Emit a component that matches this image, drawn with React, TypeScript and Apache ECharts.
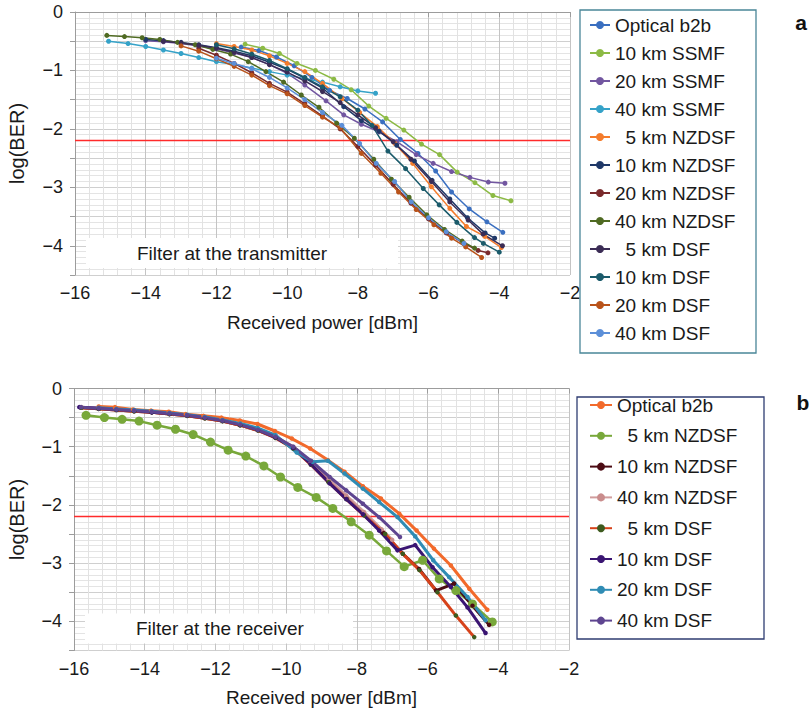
import React, { useEffect, useRef } from "react";
import * as echarts from "echarts";

const FONT = "'Liberation Sans', Arial, sans-serif";

// ---------- Panel a: filter at the transmitter ----------
const A_NAMES = [
  "Optical b2b", "10 km SSMF", "20 km SSMF", "40 km SSMF",
  "\u00a0\u00a05 km NZDSF", "10 km NZDSF", "20 km NZDSF", "40 km NZDSF",
  "\u00a0\u00a05 km DSF", "10 km DSF", "20 km DSF", "40 km DSF",
];
const A_COLORS = [
  "#3a6fc0", "#8cba45", "#7256a0", "#35a2c8",
  "#f47c2c", "#1f3868", "#7a2a2c", "#4f6a22",
  "#3b2c55", "#1b5b6b", "#b9531a", "#5c8fd8",
];
const A_B2B = [[-11.3,-0.6],[-10.8,-0.66],[-10.3,-0.77],[-9.8,-0.92],[-9.3,-1.12],[-8.8,-1.34],[-8.3,-1.48],[-7.8,-1.66],[-7.3,-1.88],[-6.8,-2.18],[-6.3,-2.42],[-5.8,-2.72],[-5.35,-3.08],[-4.85,-3.37],[-4.35,-3.59],[-3.9,-3.77]];
const A_SSMF10 = [[-11.19,-0.55],[-10.69,-0.62],[-10.22,-0.71],[-9.72,-0.88],[-9.2,-1.0],[-8.68,-1.15],[-8.19,-1.33],[-7.69,-1.61],[-7.2,-1.82],[-6.7,-2.02],[-6.2,-2.26],[-5.69,-2.44],[-5.19,-2.74],[-4.69,-2.92],[-4.18,-3.14],[-3.67,-3.23]];
const A_SSMF20 = [[-14.0,-0.49],[-13.5,-0.51],[-13.0,-0.54],[-12.5,-0.58],[-12.0,-0.63],[-11.5,-0.7],[-11.0,-0.78],[-10.5,-0.9],[-10.0,-1.05],[-9.5,-1.25],[-8.9,-1.52],[-8.4,-1.76],[-7.9,-1.92],[-7.4,-2.05],[-6.9,-2.22],[-6.35,-2.44],[-5.87,-2.59],[-5.35,-2.73],[-4.83,-2.83],[-4.31,-2.91],[-3.84,-2.93]];
const A_SSMF40 = [[-15.05,-0.5],[-14.5,-0.54],[-14.0,-0.59],[-13.5,-0.65],[-13.0,-0.71],[-12.5,-0.78],[-12.0,-0.85],[-11.5,-0.9],[-11.0,-0.96],[-10.5,-1.02],[-10.0,-1.08],[-9.5,-1.14],[-9.0,-1.2],[-8.5,-1.28],[-8.0,-1.35],[-7.5,-1.39]];
const A_NZ5 = [[-12.0,-0.54],[-11.5,-0.59],[-11.0,-0.65],[-10.5,-0.75],[-10.0,-0.88],[-9.5,-1.02],[-9.0,-1.22],[-8.45,-1.48],[-7.95,-1.72],[-7.45,-1.96],[-6.95,-2.25],[-6.45,-2.59],[-5.92,-2.99],[-5.4,-3.36],[-4.93,-3.67],[-4.41,-3.84],[-3.94,-4.03]];
const A_NZ10 = [[-14.0,-0.47],[-13.5,-0.49],[-13.0,-0.52],[-12.5,-0.56],[-12.0,-0.61],[-11.5,-0.67],[-11.0,-0.75],[-10.5,-0.86],[-10.0,-0.98],[-9.5,-1.13],[-9.0,-1.3],[-8.4,-1.62],[-7.9,-1.86],[-7.4,-2.04],[-6.9,-2.28],[-6.4,-2.55],[-5.9,-2.88],[-5.4,-3.2],[-4.9,-3.52],[-4.4,-3.78],[-4.13,-3.87]];
const A_NZ20 = [[-12.5,-0.62],[-12.0,-0.74],[-11.5,-0.88],[-11.0,-1.04],[-10.5,-1.22],[-10.0,-1.37],[-9.5,-1.57],[-9.0,-1.78],[-8.5,-2.0],[-8.0,-2.3],[-7.5,-2.62],[-7.0,-2.95],[-6.5,-3.27],[-6.0,-3.54],[-5.5,-3.78],[-5.0,-3.96],[-4.6,-4.08],[-4.32,-4.12]];
const A_NZ40 = [[-15.1,-0.4],[-14.6,-0.42],[-14.1,-0.44],[-13.6,-0.47],[-13.1,-0.52],[-12.6,-0.56],[-12.1,-0.64],[-11.6,-0.72],[-11.1,-0.85],[-10.6,-1.02],[-10.1,-1.2],[-9.6,-1.42],[-9.1,-1.63],[-8.6,-1.9],[-8.1,-2.16],[-7.55,-2.52],[-7.05,-2.86],[-6.55,-3.17],[-6.05,-3.47],[-5.55,-3.72],[-5.05,-3.92],[-4.7,-4.04]];
const A_D5 = [[-13.5,-0.5],[-13.0,-0.53],[-12.5,-0.57],[-12.0,-0.62],[-11.5,-0.69],[-11.0,-0.78],[-10.5,-0.9],[-10.0,-1.03],[-9.5,-1.18],[-9.0,-1.36],[-8.5,-1.55],[-8.0,-1.76],[-7.5,-1.98],[-7.0,-2.22],[-6.5,-2.52],[-5.92,-2.9],[-5.4,-3.25],[-4.88,-3.56],[-4.46,-3.8],[-3.91,-4.0]];
const A_D10 = [[-12.0,-0.56],[-11.5,-0.63],[-11.0,-0.72],[-10.5,-0.83],[-10.0,-0.97],[-9.5,-1.12],[-9.0,-1.28],[-8.5,-1.45],[-8.0,-1.68],[-7.6,-1.94],[-7.15,-2.38],[-6.65,-2.68],[-6.15,-3.02],[-5.7,-3.3],[-5.2,-3.6],[-4.7,-3.86],[-4.45,-3.96],[-4.0,-4.11]];
const A_D20 = [[-13.0,-0.58],[-12.5,-0.67],[-12.0,-0.8],[-11.5,-0.93],[-11.0,-1.08],[-10.5,-1.26],[-10.0,-1.4],[-9.5,-1.6],[-9.0,-1.8],[-8.5,-1.98],[-7.9,-2.42],[-7.35,-2.76],[-6.85,-3.08],[-6.35,-3.38],[-5.85,-3.64],[-5.35,-3.87],[-4.95,-4.02],[-4.5,-4.2]];
const A_D40 = [[-12.0,-0.79],[-11.5,-0.88],[-11.0,-0.97],[-10.5,-1.12],[-10.0,-1.3],[-9.5,-1.5],[-9.0,-1.72],[-8.45,-1.94],[-7.95,-2.25],[-7.48,-2.59],[-6.96,-2.9],[-6.49,-3.25],[-6.0,-3.52],[-5.5,-3.76],[-5.0,-3.96]];
const A_DATA = [A_B2B, A_SSMF10, A_SSMF20, A_SSMF40, A_NZ5, A_NZ10, A_NZ20, A_NZ40, A_D5, A_D10, A_D20, A_D40];

// ---------- Panel b: filter at the receiver ----------
const B_NAMES = [
  "Optical b2b", "\u00a0\u00a05 km NZDSF", "10 km NZDSF", "40 km NZDSF",
  "\u00a0\u00a05 km DSF", "10 km DSF", "20 km DSF", "40 km DSF",
];
const B_LINE_COLORS = ["#f26a2b", "#78a83a", "#4c0c14", "#c98c8c", "#d6421a", "#3a1572", "#2f8cb4", "#5e4590"];
const B_MARK_COLORS = ["#f26a2b", "#78a83a", "#4c0c14", "#c98c8c", "#3d5a1e", "#3a1572", "#2f8cb4", "#5e4590"];
const B_B2B = [[-15.3,-0.31],[-14.84,-0.32],[-14.33,-0.36],[-13.82,-0.38],[-13.32,-0.4],[-12.84,-0.44],[-12.34,-0.47],[-11.83,-0.5],[-11.31,-0.55],[-10.81,-0.61],[-10.32,-0.73],[-9.84,-0.86],[-9.32,-1.03],[-8.82,-1.23],[-8.35,-1.43],[-7.83,-1.68],[-7.32,-1.89],[-6.8,-2.15],[-6.31,-2.44],[-5.82,-2.75],[-5.34,-3.04],[-4.82,-3.44],[-4.31,-3.8]];
const B_NZ5 = [[-15.66,-0.46],[-15.14,-0.5],[-14.64,-0.53],[-14.16,-0.56],[-13.65,-0.63],[-13.13,-0.7],[-12.63,-0.79],[-12.14,-0.92],[-11.64,-1.06],[-11.14,-1.16],[-10.63,-1.33],[-10.16,-1.52],[-9.67,-1.7],[-9.15,-1.87],[-8.68,-2.06],[-8.16,-2.29],[-7.65,-2.52],[-7.16,-2.79],[-6.66,-3.06],[-6.14,-2.95],[-5.67,-3.27],[-5.2,-3.47],[-4.73,-3.7],[-4.17,-4.01]];
const B_NZ10 = [[-15.8,-0.33],[-15.3,-0.35],[-14.8,-0.37],[-14.3,-0.39],[-13.8,-0.41],[-13.3,-0.44],[-12.8,-0.47],[-12.3,-0.51],[-11.8,-0.56],[-11.3,-0.63],[-10.8,-0.72],[-10.3,-0.84],[-9.8,-1.02],[-9.3,-1.3],[-8.8,-1.6],[-8.3,-1.88],[-7.8,-2.16],[-7.25,-2.48],[-6.7,-2.84],[-6.24,-3.1],[-5.76,-3.47],[-5.25,-3.35],[-4.73,-3.73],[-4.26,-4.06]];
const B_NZ40 = [[-15.8,-0.32],[-15.3,-0.34],[-14.8,-0.36],[-14.3,-0.38],[-13.8,-0.4],[-13.3,-0.43],[-12.8,-0.46],[-12.3,-0.5],[-11.8,-0.55],[-11.3,-0.62],[-10.8,-0.71],[-10.3,-0.83],[-9.8,-1.0],[-9.3,-1.27],[-8.8,-1.56],[-8.3,-1.84],[-7.8,-2.12],[-7.3,-2.42],[-7.0,-2.6]];
const B_D5 = [[-15.8,-0.33],[-15.3,-0.35],[-14.8,-0.37],[-14.3,-0.39],[-13.8,-0.41],[-13.3,-0.44],[-12.8,-0.47],[-12.3,-0.51],[-11.8,-0.56],[-11.3,-0.63],[-10.8,-0.72],[-10.3,-0.85],[-9.8,-1.03],[-9.3,-1.31],[-8.8,-1.61],[-8.3,-1.9],[-7.8,-2.18],[-7.2,-2.5],[-6.7,-2.84],[-6.23,-3.12],[-5.72,-3.5],[-5.2,-3.9],[-4.68,-4.27]];
const B_D10 = [[-15.85,-0.32],[-15.3,-0.34],[-14.8,-0.36],[-14.3,-0.38],[-13.8,-0.41],[-13.3,-0.43],[-12.8,-0.46],[-12.3,-0.5],[-11.8,-0.55],[-11.3,-0.62],[-10.8,-0.71],[-10.3,-0.84],[-9.8,-1.02],[-9.3,-1.3],[-8.77,-1.63],[-8.3,-1.9],[-7.83,-2.16],[-7.37,-2.44],[-6.85,-2.78],[-6.35,-2.69],[-5.86,-3.07],[-5.34,-3.41],[-4.87,-3.76],[-4.36,-4.2]];
const B_D20 = [[-15.3,-0.33],[-14.8,-0.35],[-14.3,-0.37],[-13.8,-0.39],[-13.3,-0.42],[-12.8,-0.45],[-12.3,-0.49],[-11.8,-0.54],[-11.3,-0.6],[-10.8,-0.68],[-10.3,-0.8],[-9.7,-1.1],[-9.25,-1.26],[-8.82,-1.24],[-8.35,-1.46],[-7.83,-1.72],[-7.37,-1.95],[-6.85,-2.21],[-6.35,-2.54],[-5.84,-2.95],[-5.39,-3.24],[-4.87,-3.58],[-4.36,-3.98]];
const B_D40 = [[-15.8,-0.32],[-15.3,-0.34],[-14.8,-0.36],[-14.3,-0.38],[-13.8,-0.4],[-13.3,-0.43],[-12.8,-0.46],[-12.3,-0.5],[-11.8,-0.55],[-11.3,-0.62],[-10.8,-0.71],[-10.3,-0.83],[-9.8,-1.0],[-9.3,-1.24],[-8.77,-1.52],[-8.3,-1.75],[-7.83,-1.98],[-7.37,-2.21],[-6.78,-2.55]];
const B_DATA = [B_B2B, B_NZ5, B_NZ10, B_NZ40, B_D5, B_D10, B_D20, B_D40];

const X_MIN = -16, X_MAX = -2, X_STEP = 2;
const Y_MIN = -4.5, Y_MAX = 0, Y_STEP = 0.5;
const THRESHOLD = -2.2;

const minus = (v: number) => (v < 0 ? "\u2212" + Math.abs(v) : String(v));

function axes() {
  const axisLine = { lineStyle: { color: "#9c9c9c", width: 1 } };
  return {
    xAxis: {
      type: "value", min: X_MIN, max: X_MAX, interval: X_STEP,
      axisLine, axisTick: { show: true, length: 5, lineStyle: { color: "#9c9c9c" } },
      axisLabel: { fontSize: 18, color: "#1a1a1a", fontFamily: FONT, margin: 9, formatter: (v: number) => minus(v) },
      splitLine: { show: true, lineStyle: { color: "#c4c4c4", width: 1 } },
      minorTick: { show: false, splitNumber: 5 },
      minorSplitLine: { show: true, lineStyle: { color: "#e2e2e2", width: 1 } },
    },
    yAxis: {
      type: "value", min: Y_MIN, max: Y_MAX, interval: Y_STEP,
      axisLine: { show: true, ...axisLine },
      axisTick: { show: true, length: 5, lineStyle: { color: "#9c9c9c" } },
      axisLabel: {
        fontSize: 18, color: "#1a1a1a", fontFamily: FONT, margin: 12,
        formatter: (v: number) => (Math.abs(v - Math.round(v)) < 1e-9 ? minus(Math.round(v)) : ""),
      },
      splitLine: { show: true, lineStyle: { color: "#cfcfcf", width: 1 } },
      minorTick: { show: false, splitNumber: 5 },
      minorSplitLine: { show: true, lineStyle: { color: "#e4e4e4", width: 1 } },
    },
  };
}

function thresholdSeries() {
  return {
    type: "line", name: "threshold", silent: true, symbol: "none", z: 3,
    data: [[X_MIN, THRESHOLD], [X_MAX, THRESHOLD]],
    lineStyle: { color: "#ff2a2a", width: 1.5 },
  };
}

function commonGraphics(opts: any) {
  const { gLeft, gTop, gW, gH, legendBox, legendStroke, boxW, boxText, letter } = opts;
  return [
    { type: "rect", z: 1, shape: { x: gLeft + 11, y: gTop + gH - 37, width: boxW, height: 30 }, style: { fill: "#ffffff" } },
    { type: "text", z: 2, x: gLeft + 62, y: gTop + gH - 22, style: { text: boxText, fontSize: 19, fontFamily: FONT, fill: "#1a1a1a", textVerticalAlign: "middle" } },
    { type: "text", z: 2, x: gLeft + gW / 2, y: gTop + gH + 47, style: { text: "Received power [dBm]", fontSize: 19, fontFamily: FONT, fill: "#1a1a1a", textAlign: "center", textVerticalAlign: "middle" } },
    { type: "text", z: 2, x: 17, y: gTop + gH / 2, rotation: Math.PI / 2, style: { text: "log(BER)", fontSize: 20, fontFamily: FONT, fill: "#1a1a1a", textAlign: "center", textVerticalAlign: "middle" } },
    { type: "rect", z: 2, shape: legendBox, style: { fill: "none", stroke: legendStroke, lineWidth: 1.3 } },
    { type: "text", z: 2, x: letter[0], y: letter[1], style: { text: letter[2], fontSize: 21, fontWeight: "bold", fontFamily: FONT, fill: "#111", textAlign: "center", textVerticalAlign: "middle" } },
  ];
}

function optionA() {
  const gLeft = 75, gTop = 12, gW = 495, gH = 263;
  const series: any[] = A_DATA.map((d, i) => ({
    type: "line", name: A_NAMES[i], data: d, symbol: "circle", symbolSize: 5,
    color: A_COLORS[i], lineStyle: { width: 1.5, color: A_COLORS[i] }, itemStyle: { color: A_COLORS[i] }, z: 4,
  }));
  series.push(thresholdSeries());
  return {
    animation: false,
    grid: { left: gLeft, top: gTop, width: gW, height: gH },
    ...axes(),
    legend: {
      orient: "vertical", left: 589, top: 15, padding: 0, itemWidth: 20, itemHeight: 10, itemGap: 8,
      textStyle: { fontSize: 19, lineHeight: 20, color: "#1a1a1a", fontFamily: FONT },
      data: A_NAMES, selectedMode: false,
    },
    graphic: commonGraphics({
      gLeft, gTop, gW, gH, boxW: 312, boxText: "Filter at the transmitter",
      legendBox: { x: 580, y: 10, width: 176, height: 343 }, legendStroke: "#4a8698",
      letter: [801, 22, "a"],
    }),
    series,
  };
}

function optionB() {
  const gLeft = 74, gTop = 22.5, gW = 495, gH = 262;
  const series: any[] = B_DATA.map((d, i) => ({
    type: "line", name: B_NAMES[i], data: d, symbol: "circle",
    symbolSize: i === 1 ? 9 : 4.5,
    lineStyle: { width: i === 1 ? 2.5 : 3, color: B_LINE_COLORS[i], opacity: i === 3 ? 0.85 : 1 },
    itemStyle: { color: B_MARK_COLORS[i] }, z: 4,
  }));
  series.push(thresholdSeries());
  return {
    animation: false,
    grid: { left: gLeft, top: gTop, width: gW, height: gH },
    ...axes(),
    legend: {
      orient: "vertical", left: 589, top: 29, padding: 0, itemWidth: 22, itemHeight: 10, itemGap: 10.8,
      textStyle: { fontSize: 19, lineHeight: 20, color: "#1a1a1a", fontFamily: FONT },
      data: B_NAMES, selectedMode: false,
    },
    graphic: commonGraphics({
      gLeft, gTop, gW, gH, boxW: 268, boxText: "Filter at the receiver",
      legendBox: { x: 577, y: 31, width: 187, height: 242 }, legendStroke: "#2f3d72",
      letter: [803, 36, "b"],
    }),
    series,
  };
}

function Chart({ option, top, height }: { option: any; top: number; height: number }) {
  const ref = useRef<HTMLDivElement>(null);
  useEffect(() => {
    if (!ref.current) return;
    const chart = echarts.init(ref.current, undefined, { renderer: "svg" });
    chart.setOption(option);
    return () => chart.dispose();
  }, []);
  return <div ref={ref} style={{ position: "absolute", left: 0, top, width: 809, height }} />;
}

export default function App() {
  return (
    <div style={{ position: "fixed", left: 0, top: 0, width: 809, height: 712, background: "#fff" }}>
      <Chart option={optionA()} top={0} height={366} />
      <Chart option={optionB()} top={366} height={346} />
    </div>
  );
}
